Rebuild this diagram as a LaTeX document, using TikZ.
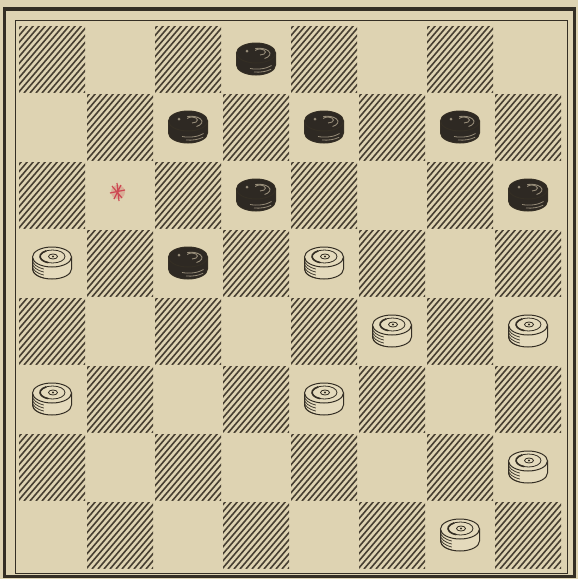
\documentclass[tikz,border=0pt]{standalone}
\definecolor{bg}{RGB}{222,211,178}
\definecolor{ink}{RGB}{52,46,36}
\definecolor{hatchc}{RGB}{72,64,50}
\definecolor{pdark}{RGB}{46,41,35}
\definecolor{plight}{RGB}{228,218,188}
\definecolor{pshine}{RGB}{150,140,120}
\definecolor{redmark}{RGB}{205,72,82}
\tikzset{
  hatch/.style={hatchc, line width=1.6pt},
  thinframe/.style={ink, line width=1pt},
  thickframe/.style={ink, line width=3.5pt},
  pieceline/.style={draw=ink, line width=1pt},
  whitepiece/.pic={
    \path[pieceline, fill=plight] (-19.5,-5) -- (-19.5,7)
      arc[start angle=180,end angle=360,x radius=19.5pt,y radius=10pt] -- (19.5,-5) -- cycle;
    \foreach \d in {-2,1,4,7}
      \draw[ink, line width=0.7pt] (-19.5,\d) arc[start angle=180,end angle=245,x radius=19.5pt,y radius=10pt];
    \path[pieceline, fill=plight] (0,-5) ellipse[x radius=19.5pt,y radius=10pt];
    \draw[ink, line width=0.8pt] (0.5,-5.5) ellipse[x radius=12.5pt,y radius=6.5pt];
    \draw[ink, line width=1.6pt] (-5.75,-11.13) arc[start angle=120,end angle=250,x radius=12.5pt,y radius=6.5pt];
    \draw[ink, line width=0.8pt] (1,-5.5) ellipse[x radius=4.5pt,y radius=2.5pt];
    \fill[ink] (1,-5.5) circle[radius=1.2pt];
  },
  blackpiece/.pic={
    \path[pieceline, fill=pdark] (-19.5,-5) -- (-19.5,7)
      arc[start angle=180,end angle=360,x radius=19.5pt,y radius=10pt] -- (19.5,-5) -- cycle;
    \draw[pshine, line width=0.8pt] (-6,10.5) arc[start angle=250,end angle=320,x radius=19.5pt,y radius=10pt];
    \draw[pshine, line width=0.8pt] (-2,14) arc[start angle=260,end angle=315,x radius=19.5pt,y radius=10pt];
    \path[pieceline, fill=pdark] (0,-5) ellipse[x radius=19.5pt,y radius=10pt];
    \draw[pshine, line width=0.9pt] (8.5,0.5) arc[start angle=-60,end angle=110,x radius=11pt,y radius=5.5pt];
    \draw[pshine, line width=0.9pt] (4,-3) arc[start angle=-90,end angle=150,x radius=5.5pt,y radius=3pt];
    \fill[pshine] (-9,-7) circle[radius=1.5pt];
  },
}
\begin{document}
\begin{tikzpicture}[x=1pt,y=-1pt]
  \useasboundingbox (0,0) rectangle (578,579);
  \fill[bg] (0,0) rectangle (578,579);
  % hatched squares
  \foreach \r in {0,...,7}{
    \foreach \c in {0,...,7}{
      \pgfmathtruncatemacro\parity{mod(\r+\c,2)}
      \ifnum\parity=0
        \begin{scope}
          \clip (18+68*\c+1, 25+68*\r+1) rectangle ++(66,66);
          \foreach \k in {-10,...,12}
            \draw[hatch] (18+68*\c+6*\k, 25+68*\r+68) -- ++(58,-68);
        \end{scope}
      \fi
    }
  }
  % frames
  \draw[thickframe] (4.5,9) rectangle (574.5,576.5);
  \draw[thinframe] (15.5,20.5) rectangle (567,573);
  % black pieces
  \foreach \r/\c in {0/3,1/2,1/4,1/6,2/3,2/7,3/2}
    \pic at (52+68*\c, 58+68*\r) {blackpiece};
  % white pieces
  \foreach \r/\c in {3/0,3/4,4/5,4/7,5/0,5/4,6/7,7/6}
    \pic at (52+68*\c, 58+68*\r) {whitepiece};
  % red mark
  \fill[redmark, opacity=0.25] (118,192) circle[radius=7pt];
  \draw[redmark, line width=1.2pt] (112,186) -- (122,198) (121,185) -- (114,199) (110,193) -- (125,190) (117,183) -- (119,201);
\end{tikzpicture}
\end{document}
